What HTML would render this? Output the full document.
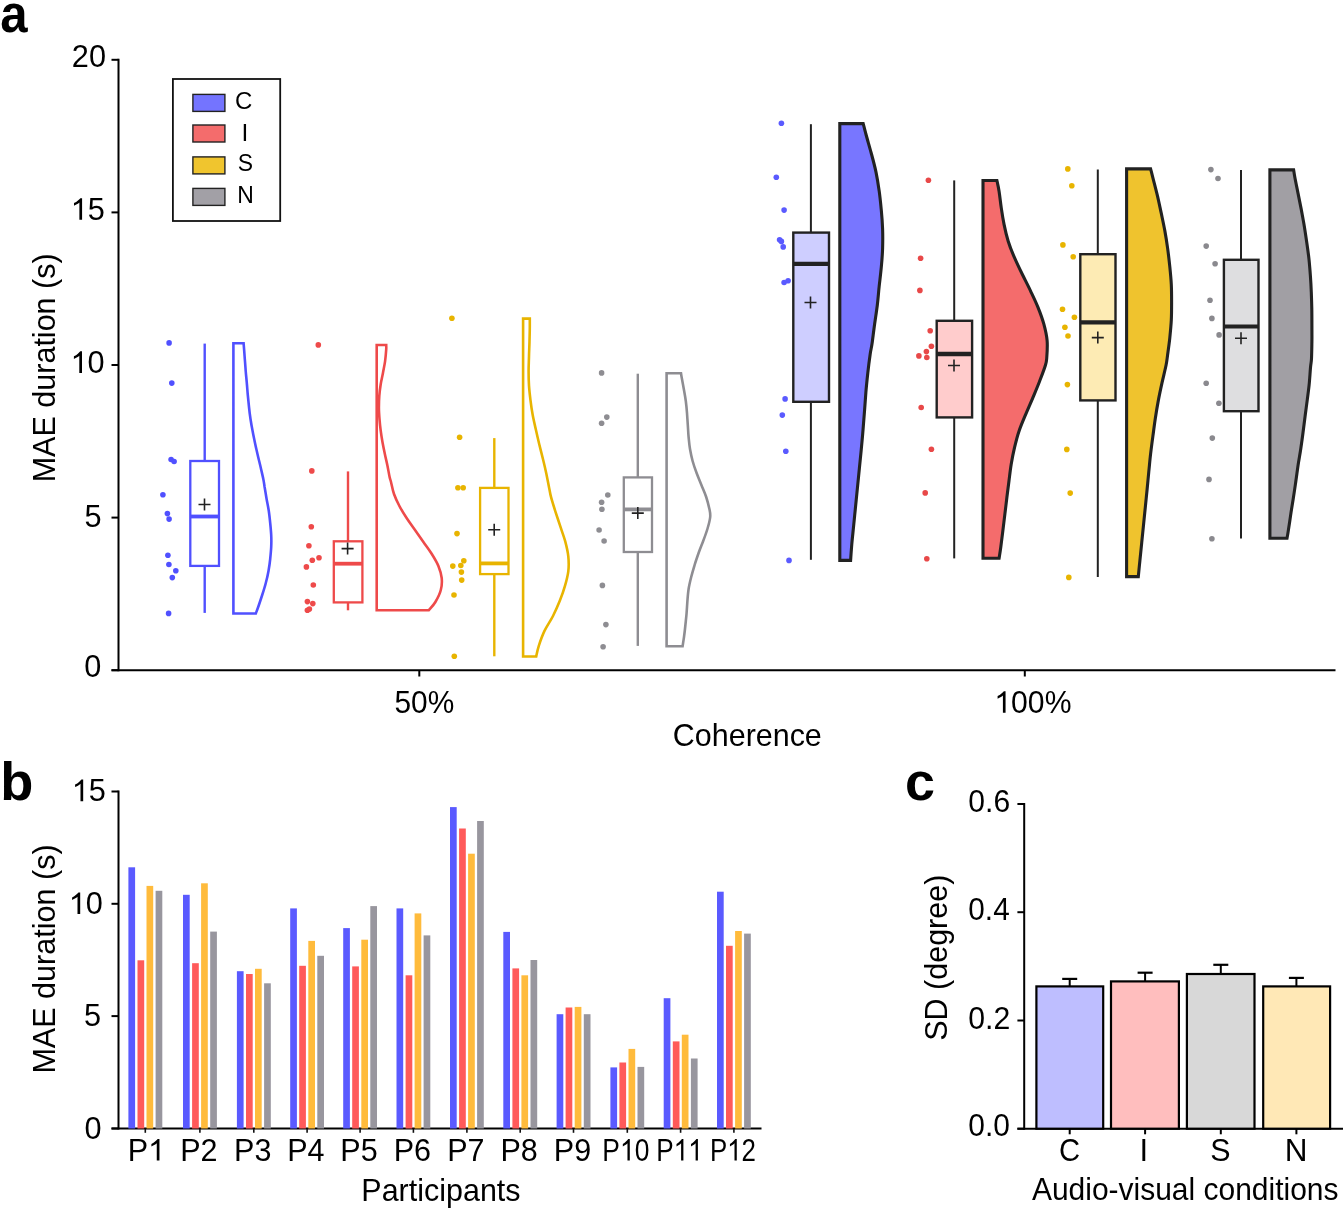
<!DOCTYPE html><html><head><meta charset="utf-8"><style>html,body{margin:0;padding:0;background:#fff;overflow:hidden;}svg{display:block;will-change:transform;}text{font-family:"Liberation Sans", sans-serif;font-kerning:none;}</style></head><body>
<svg width="1343" height="1209" viewBox="0 0 1343 1209">
<rect width="1343" height="1209" fill="#fff"/>
<text transform="translate(0.36,32.40) scale(0.9099,1)" font-size="54" font-weight="bold" fill="#000">a</text>
<text transform="translate(0.13,799.90) scale(1.0033,1)" font-size="54" font-weight="bold" fill="#000">b</text>
<text transform="translate(905.09,800.40) scale(0.9985,1)" font-size="54" font-weight="bold" fill="#000">c</text>
<g stroke="#000" stroke-width="2" fill="none">
<line x1="118.5" y1="58.8" x2="118.5" y2="671.2"/>
<line x1="111.5" y1="670.2" x2="118.5" y2="670.2"/>
<line x1="111.5" y1="517.6" x2="118.5" y2="517.6"/>
<line x1="111.5" y1="365.0" x2="118.5" y2="365.0"/>
<line x1="111.5" y1="212.4" x2="118.5" y2="212.4"/>
<line x1="111.5" y1="59.8" x2="118.5" y2="59.8"/>
<line x1="111.5" y1="670.2" x2="1335.5" y2="670.2"/>
<line x1="419.3" y1="670.2" x2="419.3" y2="676.5"/>
<line x1="1024.8" y1="670.2" x2="1024.8" y2="676.5"/>
</g>
<text transform="translate(71.86,67.00) scale(0.9900,1)" font-size="31" fill="#000">20</text>
<g transform="translate(70.65,219.80) scale(0.9900,1)" fill="#000"><path transform="translate(0.00,0) scale(0.01514,-0.01514)" d="M763,0H583V1147Q518,1085 412,1023Q306,961 223,930V1104Q374,1175 487,1276Q600,1377 647,1430H763Z"/><text x="17.24" font-size="31">5</text></g>
<g transform="translate(70.56,373.00) scale(0.9900,1)" fill="#000"><path transform="translate(0.00,0) scale(0.01514,-0.01514)" d="M763,0H583V1147Q518,1085 412,1023Q306,961 223,930V1104Q374,1175 487,1276Q600,1377 647,1430H763Z"/><text x="17.24" font-size="31">0</text></g>
<text transform="translate(84.42,526.70) scale(0.9900,1)" font-size="31" fill="#000">5</text>
<text transform="translate(84.33,677.10) scale(0.9900,1)" font-size="31" fill="#000">0</text>
<text transform="translate(394.50,712.60) scale(0.9632,1)" font-size="31" fill="#000">50%</text>
<g transform="translate(994.32,712.80) scale(0.9732,1)" fill="#000"><path transform="translate(0.00,0) scale(0.01514,-0.01514)" d="M763,0H583V1147Q518,1085 412,1023Q306,961 223,930V1104Q374,1175 487,1276Q600,1377 647,1430H763Z"/><text x="17.24" font-size="31">00%</text></g>
<text transform="translate(672.85,745.90) scale(0.9825,1)" font-size="31" fill="#000">Coherence</text>
<text transform="translate(55.00,482.30) rotate(-90) scale(0.9850,1)" font-size="31">MAE duration (s)</text>
<rect x="172.9" y="79.0" width="107.3" height="142.0" fill="#fff" stroke="#111" stroke-width="1.8"/>
<rect x="192.9" y="94.4" width="32" height="17" fill="#7474FF" stroke="#222" stroke-width="1.4"/>
<text transform="translate(234.88,109.40) scale(0.9796,1)" font-size="24.5" fill="#000">C</text>
<rect x="192.9" y="125.0" width="32" height="17" fill="#F46C6C" stroke="#222" stroke-width="1.4"/>
<text transform="translate(241.40,140.80) scale(1.0000,1)" font-size="24.5" fill="#000">I</text>
<rect x="192.9" y="156.9" width="32" height="17" fill="#F0C52E" stroke="#222" stroke-width="1.4"/>
<text transform="translate(237.76,171.30) scale(0.9359,1)" font-size="24.5" fill="#000">S</text>
<rect x="192.9" y="188.4" width="32" height="17" fill="#A2A0A6" stroke="#222" stroke-width="1.4"/>
<text transform="translate(237.32,203.00) scale(0.9353,1)" font-size="24.5" fill="#000">N</text>
<circle cx="169.1" cy="342.9" r="2.8" fill="#5050FF"/><circle cx="171.8" cy="383.1" r="2.8" fill="#5050FF"/><circle cx="171.1" cy="459.5" r="2.8" fill="#5050FF"/><circle cx="174.1" cy="461.5" r="2.8" fill="#5050FF"/><circle cx="162.9" cy="494.8" r="2.8" fill="#5050FF"/><circle cx="167.4" cy="513.6" r="2.8" fill="#5050FF"/><circle cx="169.1" cy="519.1" r="2.8" fill="#5050FF"/><circle cx="167.9" cy="555.3" r="2.8" fill="#5050FF"/><circle cx="168.9" cy="564.5" r="2.8" fill="#5050FF"/><circle cx="175.8" cy="570.7" r="2.8" fill="#5050FF"/><circle cx="172.3" cy="577.6" r="2.8" fill="#5050FF"/><circle cx="168.6" cy="613.4" r="2.8" fill="#5050FF"/>
<line x1="204.7" y1="343.6" x2="204.7" y2="461.0" stroke="#5050FF" stroke-width="2.4"/><line x1="204.7" y1="565.9" x2="204.7" y2="612.9" stroke="#5050FF" stroke-width="2.4"/><rect x="190.3" y="461.0" width="28.7" height="104.9" fill="#fff" stroke="#5050FF" stroke-width="2.3"/><line x1="190.3" y1="516.5" x2="219.0" y2="516.5" stroke="#5050FF" stroke-width="3.8"/><path d="M198.5,504.5H210.5M204.5,498.5V510.5" stroke="#222" stroke-width="1.6" fill="none"/>
<path d="M233.4,343.2 L243.6,343.2 C243.8,345.8 244.5,354.4 244.8,359.0 C245.2,363.6 245.4,367.0 245.7,371.0 C246.0,375.0 246.5,379.0 246.8,383.0 C247.2,387.0 247.4,391.0 247.8,395.0 C248.2,399.0 248.6,403.0 249.0,407.0 C249.4,411.0 249.9,415.0 250.5,419.0 C251.1,423.0 251.8,427.0 252.6,431.0 C253.3,435.0 254.2,439.0 255.0,443.0 C255.8,447.0 256.8,451.0 257.7,455.0 C258.6,459.0 259.7,463.0 260.6,467.0 C261.5,471.0 262.6,475.7 263.3,479.0 C264.0,482.3 264.1,483.7 264.6,487.0 C265.2,490.3 265.9,495.0 266.6,499.0 C267.3,503.0 268.2,507.0 268.8,511.0 C269.4,515.0 269.8,519.0 270.2,523.0 C270.6,527.0 271.0,531.0 271.2,535.0 C271.4,539.0 271.4,543.0 271.2,547.0 C271.0,551.0 270.6,555.0 270.2,559.0 C269.8,563.0 269.2,567.0 268.5,571.0 C267.8,575.0 266.9,579.0 265.8,583.0 C264.8,587.0 263.5,591.0 262.2,595.0 C260.9,599.0 259.3,603.9 258.2,607.0 C257.1,610.1 256.2,612.4 255.8,613.5 L233.4,613.5 Z" fill="#fff" stroke="#5050FF" stroke-width="2.6" stroke-linejoin="miter"/>
<circle cx="318.3" cy="344.9" r="2.8" fill="#EE4A4A"/><circle cx="311.8" cy="470.9" r="2.8" fill="#EE4A4A"/><circle cx="311.3" cy="526.7" r="2.8" fill="#EE4A4A"/><circle cx="308.9" cy="545.8" r="2.8" fill="#EE4A4A"/><circle cx="312.3" cy="560.2" r="2.8" fill="#EE4A4A"/><circle cx="319.0" cy="557.7" r="2.8" fill="#EE4A4A"/><circle cx="306.4" cy="566.9" r="2.8" fill="#EE4A4A"/><circle cx="313.3" cy="585.0" r="2.8" fill="#EE4A4A"/><circle cx="307.4" cy="601.6" r="2.8" fill="#EE4A4A"/><circle cx="312.8" cy="603.6" r="2.8" fill="#EE4A4A"/><circle cx="307.4" cy="610.3" r="2.8" fill="#EE4A4A"/><circle cx="309.4" cy="609.1" r="2.8" fill="#EE4A4A"/>
<line x1="348.0" y1="471.4" x2="348.0" y2="541.3" stroke="#EE4A4A" stroke-width="2.4"/><line x1="348.0" y1="602.4" x2="348.0" y2="610.3" stroke="#EE4A4A" stroke-width="2.4"/><rect x="333.8" y="541.3" width="28.6" height="61.1" fill="#fff" stroke="#EE4A4A" stroke-width="2.3"/><line x1="333.8" y1="563.7" x2="362.4" y2="563.7" stroke="#EE4A4A" stroke-width="3.8"/><path d="M341.6,548.6H353.6M347.6,542.6V554.6" stroke="#222" stroke-width="1.6" fill="none"/>
<path d="M376.7,345.0 L386.2,345.0 C386.2,345.8 386.4,346.9 386.2,349.6 C386.0,352.3 385.6,357.4 385.1,361.2 C384.6,365.0 383.7,368.8 383.0,372.7 C382.3,376.6 381.3,380.4 380.7,384.3 C380.1,388.2 379.6,392.0 379.3,395.9 C379.0,399.8 378.9,403.6 378.9,407.5 C378.9,411.4 379.2,415.2 379.5,419.1 C379.8,423.0 380.2,426.8 380.7,430.6 C381.2,434.5 381.8,438.3 382.5,442.2 C383.2,446.1 384.0,449.9 384.8,453.8 C385.6,457.7 386.6,461.5 387.4,465.4 C388.2,469.3 389.0,474.2 389.6,477.0 C390.2,479.8 390.3,479.2 391.0,482.0 C391.7,484.8 392.6,490.0 394.0,494.0 C395.4,498.0 397.3,502.0 399.4,506.0 C401.5,510.0 404.0,514.0 406.6,518.0 C409.2,522.0 412.2,526.0 415.0,530.0 C417.8,534.0 420.6,538.0 423.4,542.0 C426.2,546.0 429.3,550.0 431.8,554.0 C434.3,558.0 436.8,562.0 438.4,566.0 C440.0,570.0 441.3,574.0 441.7,578.0 C442.1,582.0 441.9,586.0 440.8,590.0 C439.8,594.0 437.4,598.6 435.4,602.0 C433.4,605.4 429.9,608.9 428.8,610.3 L376.7,610.3 Z" fill="#fff" stroke="#EE4A4A" stroke-width="2.6" stroke-linejoin="miter"/>
<circle cx="451.9" cy="318.3" r="2.8" fill="#E8B400"/><circle cx="459.6" cy="437.2" r="2.8" fill="#E8B400"/><circle cx="457.9" cy="487.8" r="2.8" fill="#E8B400"/><circle cx="463.2" cy="487.8" r="2.8" fill="#E8B400"/><circle cx="457.0" cy="533.6" r="2.8" fill="#E8B400"/><circle cx="452.8" cy="566.1" r="2.8" fill="#E8B400"/><circle cx="460.8" cy="565.5" r="2.8" fill="#E8B400"/><circle cx="463.8" cy="560.7" r="2.8" fill="#E8B400"/><circle cx="461.4" cy="572.1" r="2.8" fill="#E8B400"/><circle cx="461.7" cy="580.1" r="2.8" fill="#E8B400"/><circle cx="454.0" cy="595.0" r="2.8" fill="#E8B400"/><circle cx="454.3" cy="656.3" r="2.8" fill="#E8B400"/>
<line x1="494.3" y1="438.1" x2="494.3" y2="487.9" stroke="#E8B400" stroke-width="2.4"/><line x1="494.3" y1="574.1" x2="494.3" y2="656.3" stroke="#E8B400" stroke-width="2.4"/><rect x="480.1" y="487.9" width="28.4" height="86.2" fill="#fff" stroke="#E8B400" stroke-width="2.3"/><line x1="480.1" y1="563.4" x2="508.5" y2="563.4" stroke="#E8B400" stroke-width="3.8"/><path d="M488.2,529.8H500.2M494.2,523.8V535.8" stroke="#222" stroke-width="1.6" fill="none"/>
<path d="M523.1,318.6 L529.8,318.6 C529.8,320.0 529.8,322.9 529.8,326.7 C529.8,330.5 529.6,336.5 529.5,341.4 C529.4,346.3 529.1,351.3 529.0,356.2 C528.9,361.1 528.6,366.0 528.6,370.9 C528.6,375.8 528.7,380.7 529.0,385.6 C529.3,390.5 529.9,395.4 530.5,400.3 C531.1,405.2 531.8,410.2 532.7,415.1 C533.6,420.0 534.8,424.9 535.9,429.8 C537.0,434.7 538.1,439.6 539.3,444.5 C540.5,449.4 541.8,454.3 543.0,459.2 C544.2,464.1 545.4,469.1 546.4,474.0 C547.4,478.9 548.5,484.9 549.3,488.7 C550.1,492.5 550.0,493.0 551.0,496.9 C552.0,500.8 553.9,506.8 555.5,511.8 C557.1,516.8 558.8,521.7 560.4,526.7 C562.0,531.7 564.0,536.7 565.3,541.6 C566.6,546.5 567.8,551.5 568.3,556.4 C568.8,561.3 568.9,566.3 568.3,571.3 C567.7,576.3 566.3,581.2 564.9,586.2 C563.5,591.2 561.7,596.1 559.7,601.1 C557.7,606.1 555.5,611.0 553.0,616.0 C550.5,621.0 546.9,625.9 544.5,630.9 C542.1,635.9 540.2,641.5 538.8,645.8 C537.4,650.1 536.6,654.7 536.2,656.5 L523.1,656.5 Z" fill="#fff" stroke="#E8B400" stroke-width="2.6" stroke-linejoin="miter"/>
<circle cx="601.6" cy="372.9" r="2.8" fill="#8E8D92"/><circle cx="606.8" cy="417.1" r="2.8" fill="#8E8D92"/><circle cx="601.6" cy="423.3" r="2.8" fill="#8E8D92"/><circle cx="607.8" cy="495.0" r="2.8" fill="#8E8D92"/><circle cx="601.6" cy="502.2" r="2.8" fill="#8E8D92"/><circle cx="601.9" cy="509.2" r="2.8" fill="#8E8D92"/><circle cx="599.1" cy="530.0" r="2.8" fill="#8E8D92"/><circle cx="604.1" cy="541.0" r="2.8" fill="#8E8D92"/><circle cx="602.4" cy="585.4" r="2.8" fill="#8E8D92"/><circle cx="605.9" cy="624.6" r="2.8" fill="#8E8D92"/><circle cx="603.1" cy="646.7" r="2.8" fill="#8E8D92"/>
<line x1="637.8" y1="373.7" x2="637.8" y2="477.4" stroke="#8E8D92" stroke-width="2.4"/><line x1="637.8" y1="552.0" x2="637.8" y2="645.9" stroke="#8E8D92" stroke-width="2.4"/><rect x="623.8" y="477.4" width="28.2" height="74.6" fill="#fff" stroke="#8E8D92" stroke-width="2.3"/><line x1="623.8" y1="509.4" x2="652.0" y2="509.4" stroke="#8E8D92" stroke-width="3.8"/><path d="M631.8,513.1H643.8M637.8,507.1V519.1" stroke="#222" stroke-width="1.6" fill="none"/>
<path d="M666.6,373.2 L681.0,373.2 C681.1,373.8 681.1,374.4 681.6,377.0 C682.1,379.6 683.1,385.0 683.8,389.0 C684.5,393.0 685.3,397.0 685.8,401.0 C686.3,405.0 686.7,409.0 687.0,413.0 C687.3,417.0 687.5,421.0 687.8,425.0 C688.1,429.0 688.2,433.0 688.6,437.0 C689.0,441.0 689.3,445.0 690.0,449.0 C690.7,453.0 691.5,457.0 692.6,461.0 C693.7,465.0 695.1,469.0 696.6,473.0 C698.1,477.0 699.8,481.0 701.4,485.0 C703.0,489.0 704.9,493.0 706.2,497.0 C707.5,501.0 708.7,505.7 709.4,509.0 C710.1,512.3 710.5,513.7 710.2,517.0 C709.9,520.3 708.6,525.0 707.4,529.0 C706.2,533.0 704.7,537.0 703.2,541.0 C701.7,545.0 700.0,549.0 698.6,553.0 C697.2,557.0 695.8,561.0 694.6,565.0 C693.4,569.0 692.2,573.0 691.2,577.0 C690.2,581.0 689.2,585.0 688.6,589.0 C688.0,593.0 687.7,597.0 687.4,601.0 C687.1,605.0 686.9,609.0 686.6,613.0 C686.3,617.0 685.8,621.0 685.4,625.0 C685.0,629.0 684.5,633.5 684.0,637.0 C683.5,640.5 682.8,644.8 682.6,646.3 L666.6,646.3 Z" fill="#fff" stroke="#8E8D92" stroke-width="2.6" stroke-linejoin="miter"/>
<circle cx="781.4" cy="123.3" r="2.8" fill="#5A5AFF"/><circle cx="776.3" cy="177.3" r="2.8" fill="#5A5AFF"/><circle cx="784.1" cy="210.1" r="2.8" fill="#5A5AFF"/><circle cx="779.6" cy="239.8" r="2.8" fill="#5A5AFF"/><circle cx="781.4" cy="241.4" r="2.8" fill="#5A5AFF"/><circle cx="783.2" cy="246.9" r="2.8" fill="#5A5AFF"/><circle cx="784.1" cy="282.5" r="2.8" fill="#5A5AFF"/><circle cx="788.1" cy="280.7" r="2.8" fill="#5A5AFF"/><circle cx="785.1" cy="398.9" r="2.8" fill="#5A5AFF"/><circle cx="782.3" cy="415.1" r="2.8" fill="#5A5AFF"/><circle cx="785.8" cy="451.2" r="2.8" fill="#5A5AFF"/><circle cx="789.0" cy="560.4" r="2.8" fill="#5A5AFF"/>
<line x1="810.9" y1="124.2" x2="810.9" y2="232.6" stroke="#222" stroke-width="2"/><line x1="810.9" y1="401.8" x2="810.9" y2="559.8" stroke="#222" stroke-width="2"/><rect x="793.3" y="232.6" width="35.7" height="169.2" fill="#CECEFF" stroke="#222" stroke-width="2.4"/><line x1="793.3" y1="263.8" x2="829.0" y2="263.8" stroke="#222" stroke-width="4.2"/><path d="M804.5,302.5H816.5M810.5,296.5V308.5" stroke="#222" stroke-width="1.6" fill="none"/>
<path d="M839.8,123.6 L863.2,123.6 C863.7,125.3 864.6,129.1 865.9,134.0 C867.2,138.9 869.5,146.7 871.2,153.0 C872.9,159.3 874.7,165.8 876.0,172.1 C877.3,178.4 878.3,184.8 879.2,191.1 C880.1,197.4 880.7,203.8 881.3,210.1 C881.9,216.4 882.4,222.8 882.6,229.1 C882.8,235.4 882.8,241.8 882.6,248.2 C882.4,254.5 881.9,260.9 881.3,267.2 C880.7,273.5 879.9,279.9 879.2,286.2 C878.5,292.5 878.1,298.9 877.3,305.2 C876.5,311.5 875.5,317.8 874.6,324.2 C873.7,330.6 872.8,338.3 872.1,343.3 C871.4,348.3 870.9,349.1 870.2,354.0 C869.5,358.9 868.5,366.6 867.8,373.0 C867.1,379.4 866.4,385.8 865.9,392.1 C865.4,398.5 865.0,404.8 864.5,411.1 C864.0,417.4 863.5,423.8 863.0,430.1 C862.5,436.4 861.9,442.8 861.3,449.1 C860.7,455.5 860.0,461.9 859.4,468.2 C858.8,474.5 858.1,480.9 857.5,487.2 C856.9,493.5 856.2,499.9 855.6,506.2 C855.0,512.5 854.3,518.9 853.7,525.2 C853.1,531.5 852.3,538.3 851.8,544.2 C851.3,550.1 850.8,557.7 850.6,560.4 L839.8,560.4 Z" fill="#7876FF" stroke="#222" stroke-width="3.1" stroke-linejoin="miter"/>
<circle cx="928.4" cy="180.2" r="2.8" fill="#E84848"/><circle cx="920.6" cy="258.3" r="2.8" fill="#E84848"/><circle cx="919.9" cy="290.4" r="2.8" fill="#E84848"/><circle cx="930.2" cy="330.7" r="2.8" fill="#E84848"/><circle cx="931.4" cy="346.2" r="2.8" fill="#E84848"/><circle cx="926.4" cy="351.6" r="2.8" fill="#E84848"/><circle cx="918.9" cy="355.9" r="2.8" fill="#E84848"/><circle cx="926.8" cy="357.5" r="2.8" fill="#E84848"/><circle cx="921.2" cy="407.5" r="2.8" fill="#E84848"/><circle cx="931.4" cy="449.2" r="2.8" fill="#E84848"/><circle cx="925.2" cy="492.9" r="2.8" fill="#E84848"/><circle cx="926.8" cy="558.8" r="2.8" fill="#E84848"/>
<line x1="954.2" y1="180.4" x2="954.2" y2="320.8" stroke="#222" stroke-width="2"/><line x1="954.2" y1="417.4" x2="954.2" y2="558.4" stroke="#222" stroke-width="2"/><rect x="936.7" y="320.8" width="35.4" height="96.6" fill="#FFCCCC" stroke="#222" stroke-width="2.4"/><line x1="936.7" y1="354.0" x2="972.1" y2="354.0" stroke="#222" stroke-width="4.4"/><path d="M948.0,365.5H960.0M954.0,359.5V371.5" stroke="#222" stroke-width="1.6" fill="none"/>
<path d="M983.0,180.5 L996.9,180.5 C997.3,182.3 998.4,186.9 999.1,191.5 C999.8,196.1 1000.5,202.6 1001.3,208.1 C1002.1,213.6 1003.0,219.1 1004.1,224.6 C1005.2,230.1 1006.5,235.7 1008.2,241.2 C1009.9,246.7 1012.1,252.2 1014.5,257.7 C1016.9,263.2 1019.6,268.8 1022.3,274.3 C1025.0,279.8 1027.9,285.3 1030.5,290.8 C1033.1,296.3 1035.8,301.8 1038.0,307.3 C1040.2,312.8 1042.3,318.4 1043.8,323.9 C1045.3,329.4 1046.6,334.9 1047.1,340.4 C1047.6,345.9 1047.1,352.9 1046.8,357.0 C1046.5,361.1 1046.7,360.9 1045.5,365.0 C1044.3,369.1 1041.6,376.0 1039.5,381.5 C1037.4,387.0 1035.0,392.6 1032.7,398.1 C1030.4,403.6 1027.9,409.1 1025.6,414.6 C1023.3,420.1 1020.9,425.7 1019.0,431.2 C1017.1,436.7 1015.8,442.2 1014.5,447.7 C1013.2,453.2 1012.1,458.8 1011.2,464.3 C1010.3,469.8 1009.7,475.3 1009.0,480.8 C1008.3,486.3 1007.6,491.8 1006.9,497.3 C1006.2,502.8 1005.6,508.4 1004.9,513.9 C1004.2,519.4 1003.6,524.9 1002.9,530.4 C1002.2,535.9 1001.4,542.4 1000.8,547.0 C1000.2,551.6 999.4,556.3 999.1,558.2 L983.0,558.2 Z" fill="#F46C6C" stroke="#222" stroke-width="3.1" stroke-linejoin="miter"/>
<circle cx="1067.8" cy="168.9" r="2.8" fill="#E8B400"/><circle cx="1071.8" cy="185.7" r="2.8" fill="#E8B400"/><circle cx="1062.9" cy="244.9" r="2.8" fill="#E8B400"/><circle cx="1073.2" cy="256.8" r="2.8" fill="#E8B400"/><circle cx="1062.5" cy="309.2" r="2.8" fill="#E8B400"/><circle cx="1074.4" cy="317.3" r="2.8" fill="#E8B400"/><circle cx="1064.9" cy="327.3" r="2.8" fill="#E8B400"/><circle cx="1068.0" cy="336.0" r="2.8" fill="#E8B400"/><circle cx="1067.4" cy="384.6" r="2.8" fill="#E8B400"/><circle cx="1066.8" cy="449.4" r="2.8" fill="#E8B400"/><circle cx="1070.2" cy="493.1" r="2.8" fill="#E8B400"/><circle cx="1068.8" cy="577.4" r="2.8" fill="#E8B400"/>
<line x1="1097.8" y1="169.5" x2="1097.8" y2="254.2" stroke="#222" stroke-width="2"/><line x1="1097.8" y1="400.4" x2="1097.8" y2="577.0" stroke="#222" stroke-width="2"/><rect x="1080.3" y="254.2" width="35.2" height="146.2" fill="#FDEBB4" stroke="#222" stroke-width="2.4"/><line x1="1080.3" y1="322.3" x2="1115.5" y2="322.3" stroke="#222" stroke-width="4.2"/><path d="M1091.8,337.6H1103.8M1097.8,331.6V343.6" stroke="#222" stroke-width="1.6" fill="none"/>
<path d="M1126.6,168.9 L1150.6,168.9 C1151.0,170.4 1151.8,173.4 1152.9,177.8 C1154.0,182.2 1156.0,189.7 1157.4,195.6 C1158.8,201.5 1160.0,207.5 1161.3,213.4 C1162.5,219.3 1163.8,225.2 1164.9,231.1 C1166.0,237.0 1166.9,243.0 1167.7,248.9 C1168.5,254.8 1169.2,260.8 1169.8,266.7 C1170.4,272.6 1171.0,278.6 1171.3,284.5 C1171.6,290.4 1171.6,296.4 1171.6,302.3 C1171.6,308.2 1171.6,314.2 1171.3,320.1 C1171.0,326.0 1170.4,331.9 1169.8,337.8 C1169.2,343.7 1168.1,351.1 1167.5,355.6 C1166.9,360.1 1167.0,360.5 1166.1,365.0 C1165.2,369.5 1163.3,376.9 1162.0,382.8 C1160.7,388.7 1159.4,394.7 1158.3,400.6 C1157.2,406.5 1156.2,412.5 1155.3,418.4 C1154.4,424.3 1153.7,430.2 1152.9,436.1 C1152.1,442.0 1151.3,448.0 1150.6,453.9 C1149.9,459.8 1149.4,465.8 1148.8,471.7 C1148.2,477.6 1147.7,483.6 1147.1,489.5 C1146.5,495.4 1145.9,501.4 1145.3,507.3 C1144.7,513.2 1144.1,519.2 1143.5,525.1 C1142.9,531.0 1142.3,536.9 1141.7,542.8 C1141.1,548.7 1140.5,555.0 1139.9,560.6 C1139.3,566.2 1138.6,573.9 1138.3,576.6 L1126.6,576.6 Z" fill="#EFC32E" stroke="#222" stroke-width="3.1" stroke-linejoin="miter"/>
<circle cx="1210.9" cy="169.6" r="2.8" fill="#8A898E"/><circle cx="1218.0" cy="178.5" r="2.8" fill="#8A898E"/><circle cx="1206.2" cy="246.1" r="2.8" fill="#8A898E"/><circle cx="1215.1" cy="263.8" r="2.8" fill="#8A898E"/><circle cx="1210.0" cy="300.3" r="2.8" fill="#8A898E"/><circle cx="1211.9" cy="318.4" r="2.8" fill="#8A898E"/><circle cx="1219.1" cy="334.9" r="2.8" fill="#8A898E"/><circle cx="1206.2" cy="383.3" r="2.8" fill="#8A898E"/><circle cx="1218.9" cy="403.3" r="2.8" fill="#8A898E"/><circle cx="1212.3" cy="438.1" r="2.8" fill="#8A898E"/><circle cx="1209.0" cy="479.4" r="2.8" fill="#8A898E"/><circle cx="1211.9" cy="538.7" r="2.8" fill="#8A898E"/>
<line x1="1241.0" y1="170.0" x2="1241.0" y2="259.8" stroke="#222" stroke-width="2"/><line x1="1241.0" y1="411.2" x2="1241.0" y2="538.4" stroke="#222" stroke-width="2"/><rect x="1223.9" y="259.8" width="34.6" height="151.4" fill="#DEDEE0" stroke="#222" stroke-width="2.4"/><line x1="1223.9" y1="326.5" x2="1258.5" y2="326.5" stroke="#222" stroke-width="4.2"/><path d="M1235.0,338.3H1247.0M1241.0,332.3V344.3" stroke="#222" stroke-width="1.6" fill="none"/>
<path d="M1269.9,169.9 L1293.6,169.9 C1293.8,171.0 1294.0,172.6 1294.7,176.5 C1295.4,180.4 1296.9,187.6 1298.0,193.1 C1299.1,198.6 1300.2,204.1 1301.3,209.6 C1302.3,215.1 1303.4,220.7 1304.3,226.2 C1305.2,231.7 1306.0,237.2 1306.8,242.7 C1307.6,248.2 1308.4,253.8 1309.0,259.3 C1309.6,264.8 1310.0,270.3 1310.4,275.8 C1310.8,281.3 1311.1,286.8 1311.3,292.3 C1311.5,297.8 1311.7,303.4 1311.8,308.9 C1311.9,314.4 1311.9,319.9 1311.9,325.4 C1311.9,330.9 1312.0,336.5 1311.9,342.0 C1311.8,347.5 1311.7,354.4 1311.5,358.5 C1311.3,362.6 1311.0,362.4 1310.6,366.5 C1310.2,370.6 1309.8,377.6 1309.3,383.1 C1308.8,388.6 1308.0,394.1 1307.3,399.6 C1306.6,405.1 1305.8,410.7 1305.1,416.2 C1304.4,421.7 1303.7,427.2 1303.0,432.7 C1302.3,438.2 1301.5,443.8 1300.7,449.3 C1299.9,454.8 1298.8,460.3 1298.0,465.8 C1297.2,471.3 1296.5,476.8 1295.7,482.3 C1294.9,487.8 1294.1,493.4 1293.2,498.9 C1292.3,504.4 1291.4,509.9 1290.6,515.4 C1289.8,520.9 1288.7,528.2 1288.1,532.0 C1287.5,535.8 1287.2,537.2 1287.0,538.3 L1269.9,538.3 Z" fill="#A19FA4" stroke="#222" stroke-width="3.1" stroke-linejoin="miter"/>
<g stroke="#000" stroke-width="2" fill="none">
<line x1="118.5" y1="790.5" x2="118.5" y2="1129.5"/>
<line x1="111.5" y1="1128.5" x2="118.5" y2="1128.5"/>
<line x1="111.5" y1="1016.1" x2="118.5" y2="1016.1"/>
<line x1="111.5" y1="903.8" x2="118.5" y2="903.8"/>
<line x1="111.5" y1="791.5" x2="118.5" y2="791.5"/>
<line x1="111.5" y1="1128.5" x2="761.5" y2="1128.5"/>
</g>
<g transform="translate(71.75,801.20) scale(0.9900,1)" fill="#000"><path transform="translate(0.00,0) scale(0.01514,-0.01514)" d="M763,0H583V1147Q518,1085 412,1023Q306,961 223,930V1104Q374,1175 487,1276Q600,1377 647,1430H763Z"/><text x="17.24" font-size="31">5</text></g>
<g transform="translate(68.76,914.10) scale(0.9900,1)" fill="#000"><path transform="translate(0.00,0) scale(0.01514,-0.01514)" d="M763,0H583V1147Q518,1085 412,1023Q306,961 223,930V1104Q374,1175 487,1276Q600,1377 647,1430H763Z"/><text x="17.24" font-size="31">0</text></g>
<text transform="translate(83.92,1026.30) scale(0.9900,1)" font-size="31" fill="#000">5</text>
<text transform="translate(84.43,1138.50) scale(0.9900,1)" font-size="31" fill="#000">0</text>
<text transform="translate(55.40,1073.61) rotate(-90) scale(0.9864,1)" font-size="31">MAE duration (s)</text>
<rect x="128.4" y="867.3" width="6.7" height="261.2" fill="#5A5AFF"/>
<rect x="137.5" y="960.3" width="6.7" height="168.2" fill="#FF5A5A"/>
<rect x="146.5" y="885.9" width="6.7" height="242.6" fill="#FFBB3C"/>
<rect x="155.6" y="890.8" width="6.7" height="237.7" fill="#98969E"/>
<line x1="145.3" y1="1128.5" x2="145.3" y2="1132.8" stroke="#111" stroke-width="1.6"/>
<g transform="translate(127.70,1160.60) scale(0.9850,1)" fill="#000"><text x="0.00" font-size="31">P</text><path transform="translate(20.68,0) scale(0.01514,-0.01514)" d="M763,0H583V1147Q518,1085 412,1023Q306,961 223,930V1104Q374,1175 487,1276Q600,1377 647,1430H763Z"/></g>
<rect x="183.0" y="894.8" width="6.7" height="233.7" fill="#5A5AFF"/>
<rect x="192.1" y="963.2" width="6.7" height="165.3" fill="#FF5A5A"/>
<rect x="201.1" y="883.3" width="6.7" height="245.2" fill="#FFBB3C"/>
<rect x="210.2" y="931.6" width="6.7" height="196.9" fill="#98969E"/>
<line x1="199.9" y1="1128.5" x2="199.9" y2="1132.8" stroke="#111" stroke-width="1.6"/>
<text transform="translate(180.27,1160.60) scale(0.9850,1)" font-size="31" fill="#000">P2</text>
<rect x="236.9" y="971.2" width="6.7" height="157.3" fill="#5A5AFF"/>
<rect x="246.0" y="974.0" width="6.7" height="154.5" fill="#FF5A5A"/>
<rect x="255.0" y="968.8" width="6.7" height="159.7" fill="#FFBB3C"/>
<rect x="264.1" y="983.3" width="6.7" height="145.2" fill="#98969E"/>
<line x1="253.8" y1="1128.5" x2="253.8" y2="1132.8" stroke="#111" stroke-width="1.6"/>
<text transform="translate(234.07,1160.60) scale(0.9850,1)" font-size="31" fill="#000">P3</text>
<rect x="290.2" y="908.4" width="6.7" height="220.1" fill="#5A5AFF"/>
<rect x="299.2" y="965.8" width="6.7" height="162.7" fill="#FF5A5A"/>
<rect x="308.3" y="940.9" width="6.7" height="187.6" fill="#FFBB3C"/>
<rect x="317.3" y="955.8" width="6.7" height="172.7" fill="#98969E"/>
<line x1="307.1" y1="1128.5" x2="307.1" y2="1132.8" stroke="#111" stroke-width="1.6"/>
<text transform="translate(287.15,1160.60) scale(0.9850,1)" font-size="31" fill="#000">P4</text>
<rect x="343.2" y="928.1" width="6.7" height="200.4" fill="#5A5AFF"/>
<rect x="352.2" y="966.4" width="6.7" height="162.1" fill="#FF5A5A"/>
<rect x="361.3" y="939.7" width="6.7" height="188.8" fill="#FFBB3C"/>
<rect x="370.3" y="906.1" width="6.7" height="222.4" fill="#98969E"/>
<line x1="360.1" y1="1128.5" x2="360.1" y2="1132.8" stroke="#111" stroke-width="1.6"/>
<text transform="translate(340.34,1160.60) scale(0.9850,1)" font-size="31" fill="#000">P5</text>
<rect x="396.5" y="908.4" width="6.7" height="220.1" fill="#5A5AFF"/>
<rect x="405.6" y="975.3" width="6.7" height="153.2" fill="#FF5A5A"/>
<rect x="414.6" y="913.4" width="6.7" height="215.1" fill="#FFBB3C"/>
<rect x="423.6" y="935.4" width="6.7" height="193.1" fill="#98969E"/>
<line x1="413.4" y1="1128.5" x2="413.4" y2="1132.8" stroke="#111" stroke-width="1.6"/>
<text transform="translate(393.67,1160.60) scale(0.9850,1)" font-size="31" fill="#000">P6</text>
<rect x="450.0" y="807.1" width="6.7" height="321.4" fill="#5A5AFF"/>
<rect x="459.1" y="828.5" width="6.7" height="300.0" fill="#FF5A5A"/>
<rect x="468.1" y="853.7" width="6.7" height="274.8" fill="#FFBB3C"/>
<rect x="477.1" y="821.0" width="6.7" height="307.5" fill="#98969E"/>
<line x1="466.9" y1="1128.5" x2="466.9" y2="1132.8" stroke="#111" stroke-width="1.6"/>
<text transform="translate(447.27,1160.60) scale(0.9850,1)" font-size="31" fill="#000">P7</text>
<rect x="503.3" y="931.9" width="6.7" height="196.6" fill="#5A5AFF"/>
<rect x="512.4" y="968.4" width="6.7" height="160.1" fill="#FF5A5A"/>
<rect x="521.4" y="975.3" width="6.7" height="153.2" fill="#FFBB3C"/>
<rect x="530.5" y="960.0" width="6.7" height="168.5" fill="#98969E"/>
<line x1="520.2" y1="1128.5" x2="520.2" y2="1132.8" stroke="#111" stroke-width="1.6"/>
<text transform="translate(500.46,1160.60) scale(0.9850,1)" font-size="31" fill="#000">P8</text>
<rect x="556.6" y="1014.2" width="6.7" height="114.3" fill="#5A5AFF"/>
<rect x="565.6" y="1007.5" width="6.7" height="121.0" fill="#FF5A5A"/>
<rect x="574.7" y="1006.9" width="6.7" height="121.6" fill="#FFBB3C"/>
<rect x="583.8" y="1014.2" width="6.7" height="114.3" fill="#98969E"/>
<line x1="573.5" y1="1128.5" x2="573.5" y2="1132.8" stroke="#111" stroke-width="1.6"/>
<text transform="translate(553.82,1160.60) scale(0.9850,1)" font-size="31" fill="#000">P9</text>
<rect x="610.4" y="1067.4" width="6.7" height="61.1" fill="#5A5AFF"/>
<rect x="619.4" y="1062.5" width="6.7" height="66.0" fill="#FF5A5A"/>
<rect x="628.5" y="1048.9" width="6.7" height="79.6" fill="#FFBB3C"/>
<rect x="637.5" y="1066.9" width="6.7" height="61.6" fill="#98969E"/>
<line x1="627.3" y1="1128.5" x2="627.3" y2="1132.8" stroke="#111" stroke-width="1.6"/>
<g transform="translate(602.33,1160.60) scale(0.8521,1)" fill="#000"><text x="0.00" font-size="31">P</text><path transform="translate(20.68,0) scale(0.01514,-0.01514)" d="M763,0H583V1147Q518,1085 412,1023Q306,961 223,930V1104Q374,1175 487,1276Q600,1377 647,1430H763Z"/><text x="37.92" font-size="31">0</text></g>
<rect x="663.7" y="998.2" width="6.7" height="130.3" fill="#5A5AFF"/>
<rect x="672.8" y="1041.4" width="6.7" height="87.1" fill="#FF5A5A"/>
<rect x="681.8" y="1034.7" width="6.7" height="93.8" fill="#FFBB3C"/>
<rect x="690.9" y="1058.5" width="6.7" height="70.0" fill="#98969E"/>
<line x1="680.6" y1="1128.5" x2="680.6" y2="1132.8" stroke="#111" stroke-width="1.6"/>
<g transform="translate(656.26,1160.60) scale(0.8418,1)" fill="#000"><text x="0.00" font-size="31">P</text><path transform="translate(20.68,0) scale(0.01514,-0.01514)" d="M763,0H583V1147Q518,1085 412,1023Q306,961 223,930V1104Q374,1175 487,1276Q600,1377 647,1430H763Z"/><path transform="translate(37.92,0) scale(0.01514,-0.01514)" d="M763,0H583V1147Q518,1085 412,1023Q306,961 223,930V1104Q374,1175 487,1276Q600,1377 647,1430H763Z"/></g>
<rect x="717.0" y="891.7" width="6.7" height="236.8" fill="#5A5AFF"/>
<rect x="726.0" y="945.8" width="6.7" height="182.7" fill="#FF5A5A"/>
<rect x="735.1" y="931.0" width="6.7" height="197.5" fill="#FFBB3C"/>
<rect x="744.1" y="933.6" width="6.7" height="194.9" fill="#98969E"/>
<line x1="733.9" y1="1128.5" x2="733.9" y2="1132.8" stroke="#111" stroke-width="1.6"/>
<g transform="translate(709.88,1160.60) scale(0.8344,1)" fill="#000"><text x="0.00" font-size="31">P</text><path transform="translate(20.68,0) scale(0.01514,-0.01514)" d="M763,0H583V1147Q518,1085 412,1023Q306,961 223,930V1104Q374,1175 487,1276Q600,1377 647,1430H763Z"/><text x="37.92" font-size="31">2</text></g>
<text transform="translate(361.30,1200.70) scale(0.9836,1)" font-size="31" fill="#000">Participants</text>
<g stroke="#000" stroke-width="2" fill="none">
<line x1="1024.2" y1="803.0" x2="1024.2" y2="1129.7"/>
<line x1="1017.4" y1="1128.7" x2="1024.2" y2="1128.7"/>
<line x1="1017.4" y1="1020.5" x2="1024.2" y2="1020.5"/>
<line x1="1017.4" y1="912.2" x2="1024.2" y2="912.2"/>
<line x1="1017.4" y1="804.0" x2="1024.2" y2="804.0"/>
<line x1="1017.4" y1="1128.7" x2="1343" y2="1128.7"/>
</g>
<text transform="translate(968.33,812.00) scale(0.9699,1)" font-size="31" fill="#000">0.6</text>
<text transform="translate(968.34,920.30) scale(0.9591,1)" font-size="31" fill="#000">0.4</text>
<text transform="translate(968.32,1029.00) scale(0.9746,1)" font-size="31" fill="#000">0.2</text>
<text transform="translate(968.33,1136.40) scale(0.9663,1)" font-size="31" fill="#000">0.0</text>
<text transform="translate(947.10,1040.79) rotate(-90) scale(0.9842,1)" font-size="31">SD (degree)</text>
<line x1="1069.7" y1="986.4" x2="1069.7" y2="978.9" stroke="#000" stroke-width="2"/>
<line x1="1062.2" y1="978.9" x2="1077.2" y2="978.9" stroke="#000" stroke-width="2.2"/>
<rect x="1036.4" y="986.4" width="66.8" height="142.3" fill="#BEBEFF" stroke="#000" stroke-width="2.2"/>
<line x1="1069.7" y1="1128.7" x2="1069.7" y2="1134.3" stroke="#000" stroke-width="2"/>
<text transform="translate(1058.92,1160.50) scale(0.9423,1)" font-size="31" fill="#000">C</text>
<line x1="1145.1" y1="981.4" x2="1145.1" y2="972.7" stroke="#000" stroke-width="2"/>
<line x1="1137.6" y1="972.7" x2="1152.6" y2="972.7" stroke="#000" stroke-width="2.2"/>
<rect x="1111.0" y="981.4" width="67.9" height="147.3" fill="#FFBEBE" stroke="#000" stroke-width="2.2"/>
<line x1="1145.1" y1="1128.7" x2="1145.1" y2="1134.3" stroke="#000" stroke-width="2"/>
<text transform="translate(1139.59,1160.50) scale(1.0000,1)" font-size="31" fill="#000">I</text>
<line x1="1220.8" y1="974.0" x2="1220.8" y2="964.8" stroke="#000" stroke-width="2"/>
<line x1="1213.3" y1="964.8" x2="1228.3" y2="964.8" stroke="#000" stroke-width="2.2"/>
<rect x="1186.9" y="974.0" width="67.6" height="154.7" fill="#D8D8D8" stroke="#000" stroke-width="2.2"/>
<line x1="1220.8" y1="1128.7" x2="1220.8" y2="1134.3" stroke="#000" stroke-width="2"/>
<text transform="translate(1210.32,1160.50) scale(0.9806,1)" font-size="31" fill="#000">S</text>
<line x1="1296.4" y1="986.4" x2="1296.4" y2="977.9" stroke="#000" stroke-width="2"/>
<line x1="1288.9" y1="977.9" x2="1303.9" y2="977.9" stroke="#000" stroke-width="2.2"/>
<rect x="1263.2" y="986.4" width="66.9" height="142.3" fill="#FFE8B6" stroke="#000" stroke-width="2.2"/>
<line x1="1296.4" y1="1128.7" x2="1296.4" y2="1134.3" stroke="#000" stroke-width="2"/>
<text transform="translate(1284.82,1160.50) scale(1.0164,1)" font-size="31" fill="#000">N</text>
<text transform="translate(1031.94,1200.20) scale(0.9671,1)" font-size="31" fill="#000">Audio-visual conditions</text>
</svg></body></html>
